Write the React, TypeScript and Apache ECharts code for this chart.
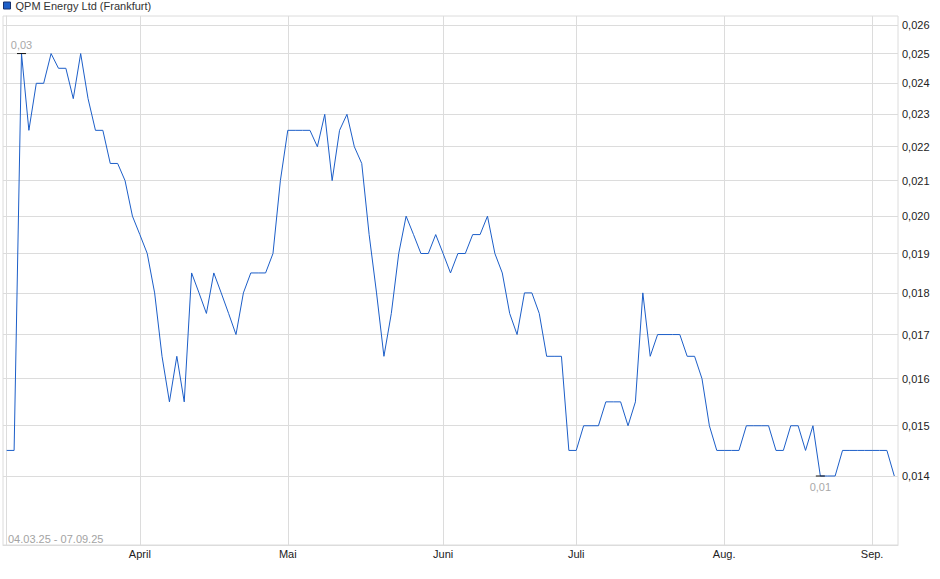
import React, { useEffect, useRef } from "react";
import * as echarts from "echarts";

// closing prices, one per trading day (04.03.25 - 07.09.25)
const prices: number[] = [
  0.0145, 0.0145, 0.025, 0.0225, 0.024, 0.024, 0.025, 0.0245, 0.0245, 0.0235,
  0.025, 0.0235, 0.0225, 0.0225, 0.0215, 0.0215, 0.021, 0.02, 0.0195, 0.019,
  0.018, 0.0165, 0.0155, 0.0165, 0.0155, 0.0185, 0.018, 0.0175, 0.0185, 0.018,
  0.0175, 0.017, 0.018, 0.0185, 0.0185, 0.0185, 0.019, 0.021, 0.0225, 0.0225,
  0.0225, 0.0225, 0.022, 0.023, 0.021, 0.0225, 0.023, 0.022, 0.0215, 0.0195,
  0.018, 0.0165, 0.0175, 0.019, 0.02, 0.0195, 0.019, 0.019, 0.0195, 0.019,
  0.0185, 0.019, 0.019, 0.0195, 0.0195, 0.02, 0.019, 0.0185, 0.0175, 0.017,
  0.018, 0.018, 0.0175, 0.0165, 0.0165, 0.0165, 0.0145, 0.0145, 0.015, 0.015,
  0.015, 0.0155, 0.0155, 0.0155, 0.015, 0.0155, 0.018, 0.0165, 0.017, 0.017,
  0.017, 0.017, 0.0165, 0.0165, 0.016, 0.015, 0.0145, 0.0145, 0.0145, 0.0145,
  0.015, 0.015, 0.015, 0.015, 0.0145, 0.0145, 0.015, 0.015, 0.0145, 0.015,
  0.014, 0.014, 0.014, 0.0145, 0.0145, 0.0145, 0.0145, 0.0145, 0.0145, 0.0145,
  0.014,
];

// first trading day of each month (index into prices)
const monthStarts: number[] = [18, 38, 59, 77, 97, 117];
const monthLabels: string[] = ["April", "Mai", "Juni", "Juli", "Aug.", "Sep."];

const priceTicks: number[] = [
  0.014, 0.015, 0.016, 0.017, 0.018, 0.019, 0.02, 0.021, 0.022, 0.023, 0.024,
  0.025, 0.026,
];

const seriesName = "QPM Energy Ltd (Frankfurt)";
const rangeText = "04.03.25 - 07.09.25";

const FONT = "'Liberation Sans', Arial, sans-serif";
const GRID = "#dcdcdc";

const App: React.FC = () => {
  const chartRef = useRef<HTMLDivElement>(null);

  useEffect(() => {
    if (!chartRef.current) return;

    const chart = echarts.init(chartRef.current, undefined, { renderer: "svg" });

    const data = prices.map((p, i) => [i, p]);
    const decimal = (v: number, d: number) => v.toFixed(d).replace(".", ",");

    const option: echarts.EChartsOption = {
      animation: false,
      textStyle: { fontFamily: FONT },
      legend: {
        left: 3,
        top: 0,
        padding: 0,
        itemWidth: 7,
        itemHeight: 7,
        icon: "rect",
        itemStyle: { borderColor: "#16306e", borderWidth: 1 },
        textStyle: { fontSize: 11, color: "#333", fontFamily: FONT },
        data: [seriesName],
      },
      grid: {
        left: 3,
        right: 42,
        top: 16,
        bottom: 34,
        show: true,
        borderColor: GRID,
        borderWidth: 1,
      },
      xAxis: {
        type: "value",
        min: -0.5,
        max: prices.length - 0.5,
        axisLine: { show: true, lineStyle: { color: GRID } },
        axisTick: { show: false, customValues: [0, ...monthStarts] },
        splitLine: { show: true, lineStyle: { color: GRID } },
        axisLabel: {
          customValues: monthStarts,
          margin: 3,
          fontSize: 11,
          color: "#222",
          fontFamily: FONT,
          formatter: (v: number) => monthLabels[monthStarts.indexOf(v)] ?? "",
        },
      },
      yAxis: {
        type: "log",
        logBase: 10,
        position: "right",
        min: 0.012735,
        max: 0.026323,
        axisLine: { show: true, lineStyle: { color: GRID } },
        axisTick: { show: false, customValues: priceTicks },
        splitLine: { show: true, lineStyle: { color: GRID } },
        axisLabel: {
          customValues: priceTicks,
          margin: 4,
          fontSize: 11,
          color: "#222",
          fontFamily: FONT,
          formatter: (v: number) => decimal(v, 3),
        },
      },
      graphic: [
        {
          type: "text",
          left: 8,
          top: 533,
          style: {
            text: rangeText,
            fill: "#a3a3a3",
            font: `11px ${FONT}`,
          },
        },
      ],
      series: [
        {
          name: seriesName,
          type: "line",
          data,
          showSymbol: false,
          color: "#1c5ec8",
          lineStyle: { width: 1, color: "#1c5ec8" },
          markPoint: {
            symbol: "rect",
            symbolSize: [9, 1],
            itemStyle: { color: "#111" },
            label: {
              show: true,
              color: "#a8a8a8",
              fontSize: 11,
              fontFamily: FONT,
              formatter: (p: any) => decimal(p.value, 2),
            },
            data: [
              { type: "max", valueDim: "y", label: { position: "top", distance: 3 } },
              { type: "min", valueDim: "y", label: { position: "bottom", distance: 5 } },
            ],
          },
        },
      ],
    };

    chart.setOption(option);

    return () => {
      chart.dispose();
    };
  }, []);

  return (
    <div
      ref={chartRef}
      style={{ position: "fixed", left: 0, top: 0, width: 940, height: 579, background: "#fff" }}
    />
  );
};

export default App;
